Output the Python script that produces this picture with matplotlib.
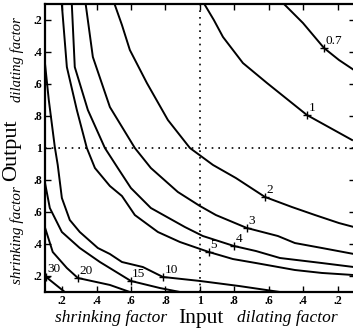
import matplotlib
matplotlib.use("Agg")
import matplotlib.pyplot as plt
import numpy as np

plt.rcParams['font.family'] = ['Liberation Serif', 'DejaVu Serif']

# Axis coordinate: u (input) from -0.9 (shrinking 0.1) to +0.9 (dilating 0.1)
#                  v (output) same, dilating at top
tick_pos = [-0.8, -0.6, -0.4, -0.2, 0.0, 0.2, 0.4, 0.6, 0.8]
tick_labels = ['.2', '.4', '.6', '.8', '1', '.8', '.6', '.4', '.2']

curve_labels = ['0.7', '1', '2', '3', '4', '5', '10', '15', '20', '30']
curves_u = [
    [0.494, 0.599, 0.721, 0.808, 0.895],
    [0.029, 0.081, 0.134, 0.25, 0.39, 0.622, 0.884],
    [-0.494, -0.453, -0.407, -0.308, -0.186, -0.058, 0.076, 0.209, 0.378, 0.535, 0.669, 0.808, 0.895],
    [-0.663, -0.622, -0.523, -0.378, -0.285, -0.128, 0.0, 0.093, 0.273, 0.453, 0.552, 0.709, 0.895],
    [-0.744, -0.727, -0.651, -0.552, -0.477, -0.401, -0.285, -0.087, 0.017, 0.198, 0.326, 0.465, 0.709, 0.895],
    [-0.802, -0.773, -0.715, -0.657, -0.61, -0.523, -0.453, -0.378, -0.244, -0.116, 0.052, 0.192, 0.326, 0.552, 0.709, 0.895],
    [-0.901, -0.878, -0.843, -0.826, -0.802, -0.756, -0.698, -0.593, -0.523, -0.453, -0.331, -0.215, 0.0, 0.227, 0.465],
    [-0.901, -0.872, -0.802, -0.698, -0.581, -0.401, -0.233, -0.116],
    [-0.901, -0.855, -0.773, -0.709, -0.523, -0.407],
    [-0.901, -0.785],
]
curves_v = [
    [0.894, 0.781, 0.625, 0.55, 0.4875],
    [0.894, 0.80, 0.694, 0.531, 0.406, 0.206, 0.05],
    [0.894, 0.769, 0.6125, 0.406, 0.175, 0.0, -0.106, -0.1875, -0.306, -0.369, -0.419, -0.469, -0.494],
    [0.894, 0.569, 0.256, 0.0, -0.125, -0.275, -0.3625, -0.419, -0.5, -0.55, -0.594, -0.625, -0.6625],
    [0.894, 0.506, 0.2375, 0.0, -0.125, -0.25, -0.375, -0.494, -0.55, -0.6125, -0.644, -0.6875, -0.719, -0.744],
    [0.894, 0.506, 0.2375, 0.0, -0.125, -0.2375, -0.3, -0.419, -0.525, -0.5875, -0.65, -0.694, -0.719, -0.7625, -0.781, -0.794],
    [0.5375, 0.3, 0.006, -0.106, -0.3125, -0.45, -0.525, -0.625, -0.6625, -0.7125, -0.744, -0.806, -0.831, -0.8625, -0.9],
    [-0.2125, -0.375, -0.525, -0.625, -0.7125, -0.831, -0.875, -0.9],
    [-0.494, -0.65, -0.75, -0.8125, -0.856, -0.9],
    [-0.8, -0.9],
]
# label marker positions (u, v)
label_u = [0.721, 0.622, 0.378, 0.273, 0.198, 0.052, -0.215, -0.401, -0.709, -0.895]
label_v = [0.625, 0.206, -0.306, -0.5, -0.6125, -0.65, -0.806, -0.831, -0.8125, -0.805]

fig = plt.figure(figsize=(3.53, 3.30), dpi=100)
ax = fig.add_axes([45/353, 38/330, 309.8/353, 288/330])
ax.set_xlim(-0.9, 0.9)
ax.set_ylim(-0.9, 0.9)

for cu, cv in zip(curves_u, curves_v):
    ax.plot(cu, cv, color='black', lw=1.4, solid_joinstyle='round', clip_on=True)

for lab, lu, lv in zip(curve_labels, label_u, label_v):
    ax.plot([lu], [lv], marker='+', color='black', ms=6, mew=1.0)
    ax.annotate(lab, (lu, lv), xytext=(1, 1), textcoords='offset points',
                ha='left', va='bottom', fontsize=9.5)

ax.axvline(0, color='black', lw=1.2, ls=(0, (1, 3)))
ax.axhline(0, color='black', lw=1.2, ls=(0, (1, 3)))

ax.set_xticks(tick_pos)
ax.set_xticklabels(tick_labels, fontsize=8.5, weight='bold')
ax.set_yticks(tick_pos)
ax.set_yticklabels(tick_labels, fontsize=8.5, weight='bold')
ax.tick_params(direction='in', length=4, width=1.0, top=True, right=True, pad=2)
for s in ax.spines.values():
    s.set_linewidth(1.6)

fig.text(111/353, 1 - 318/330, 'shrinking factor', ha='center', va='center',
         fontsize=12.5, style='italic')
fig.text(201/353, 1 - 318/330, 'Input', ha='center', va='center', fontsize=15.5)
fig.text(287/353, 1 - 318/330, 'dilating factor', ha='center', va='center',
         fontsize=12.5, style='italic')
fig.text(12/353, 1 - 150/330, 'Output', ha='center', va='center', fontsize=16, rotation=90)
fig.text(17/353, 1 - 60/330, 'dilating factor', ha='center', va='center',
         fontsize=10.5, style='italic', rotation=90)
fig.text(17/353, 1 - 235/330, 'shrinking factor', ha='center', va='center',
         fontsize=11, style='italic', rotation=90)

fig.savefig('out.png', dpi=100)
